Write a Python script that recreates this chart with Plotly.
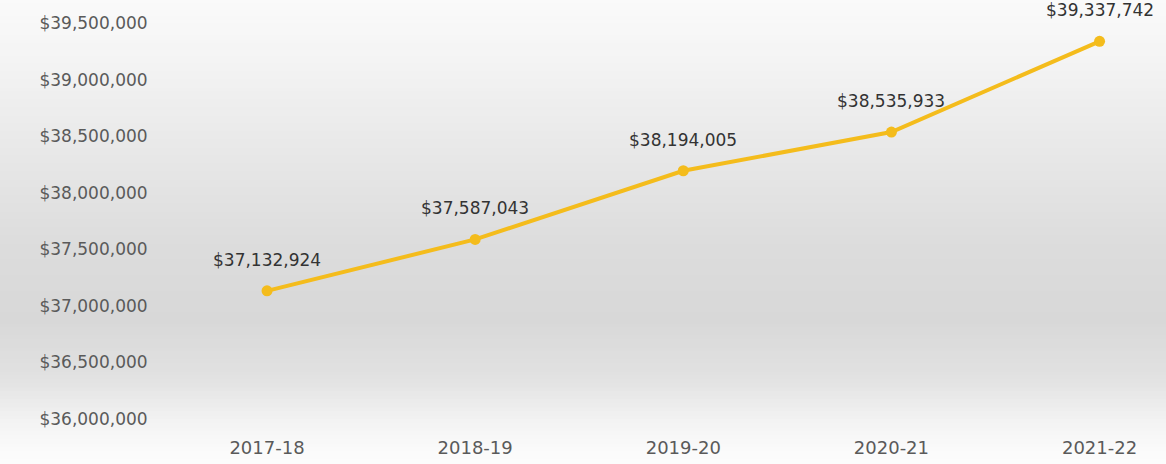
import plotly.graph_objects as go
import numpy as np

years = ["2017-18", "2018-19", "2019-20", "2020-21", "2021-22"]
funding = [37132924, 37587043, 38194005, 38535933, 39337742]
y_ticks = [36000000, 36500000, 37000000, 37500000, 38000000, 38500000, 39000000, 39500000]

W, H = 1166, 464
ML, MR, MT, MB = 164, 4, 23, 45
FONT = "DejaVu Sans"
GOLD = "#F4BC1C"

fig = go.Figure()
xs = list(range(len(years)))
fig.add_trace(go.Scatter(
    x=xs, y=funding,
    mode="lines+markers",
    line=dict(color=GOLD, width=4),
    marker=dict(color=GOLD, size=11),
    cliponaxis=False,
    hoverinfo="skip",
))

annotations = []
for xi, v in zip(xs, funding):
    annotations.append(dict(
        x=xi, y=v, xref="x", yref="y", text=f"${v:,.0f}",
        showarrow=False, yshift=31,
        font=dict(family=FONT, size=17, color="#333333"),
    ))

# background vertical gradient (figure-wide), via paper-referenced strips
stops_y = [0, 60, 150, 250, 320, 380, 420, 450, 464]
stops_v = [250, 244, 232, 220, 216, 226, 242, 250, 252]
pw = W - ML - MR
ph = H - MT - MB
n = 116
shapes = []
for i in range(n):
    y0p = i * H / n
    y1p = (i + 1) * H / n
    v = int(round(np.interp((y0p + y1p) / 2, stops_y, stops_v)))
    py0 = 1 - (y1p - MT) / ph
    py1 = 1 - (y0p - MT) / ph
    shapes.append(dict(
        type="rect", xref="paper", yref="paper",
        x0=-ML / pw - 0.01, x1=1 + MR / pw + 0.01, y0=py0, y1=py1 + 0.002,
        fillcolor=f"rgb({v},{v},{v})", line=dict(width=0), layer="below",
    ))

fig.update_layout(
    width=W, height=H,
    margin=dict(l=ML, r=MR, t=MT, b=MB),
    paper_bgcolor="white",
    plot_bgcolor="rgba(0,0,0,0)",
    showlegend=False,
    shapes=shapes,
    annotations=annotations,
    xaxis=dict(
        range=[-0.495, 4.3],
        tickmode="array", tickvals=xs, ticktext=years,
        showgrid=False, zeroline=False, showline=False,
        ticks="outside", ticklen=12, tickcolor="rgba(0,0,0,0)",
        tickfont=dict(family=FONT, size=18, color="#5a5a5a"),
    ),
    yaxis=dict(
        range=[36000000, 39500000],
        tickmode="array", tickvals=y_ticks,
        ticktext=[f"${v:,.0f}" for v in y_ticks],
        showgrid=False, zeroline=False, showline=False,
        ticks="outside", ticklen=12, tickcolor="rgba(0,0,0,0)",
        tickfont=dict(family=FONT, size=17, color="#5a5a5a"),
    ),
)

fig.write_html("out.html")
